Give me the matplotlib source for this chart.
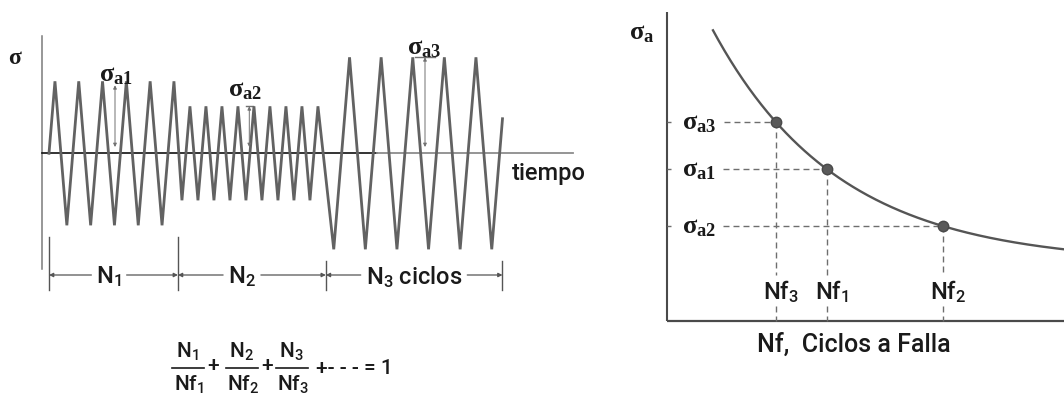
import numpy as np
import matplotlib
matplotlib.use("Agg")
import matplotlib.pyplot as plt

SANS = 'Roboto'
plt.rcParams['font.family'] = [SANS, 'Liberation Sans', 'DejaVu Sans']
plt.rcParams['font.weight'] = 'medium'
plt.rcParams['mathtext.fontset'] = 'custom'
plt.rcParams['mathtext.rm'] = 'Liberation Serif:bold'
plt.rcParams['mathtext.sf'] = SANS + ':medium'
plt.rcParams['mathtext.default'] = 'sf'

# ---- variable-amplitude loading history (left) ----
block_names = ['N$_1$', 'N$_2$', 'N$_3$ ciclos']
block_amplitude = [72, 47, 96]          # sigma_a1, sigma_a2, sigma_a3
block_period = [23.8, 16.0, 31.6]
block_vertices = [11, 18, 11]           # peaks + valleys drawn per block
amp_labels = [r'$\mathrm{\sigma_{a1}}$', r'$\mathrm{\sigma_{a2}}$', r'$\mathrm{\sigma_{a3}}$']
history_start = 49.0
tail_fraction = 0.68

# ---- S-N curve (right) ----
sn_limit = 57.0
sn_scale = 337.0
sn_decay = 126.0
curve_range = (46.3, 397.3)
nf_values = [160.0, 276.6, 109.0]       # Nf1, Nf2, Nf3
nf_labels = ['Nf$_1$', 'Nf$_2$', 'Nf$_3$']
sa_labels = [r'$\mathrm{\sigma_{a1}}$', r'$\mathrm{\sigma_{a2}}$', r'$\mathrm{\sigma_{a3}}$']

W, H = 1064, 402
fig = plt.figure(figsize=(W / 100, H / 100), dpi=100)
fig.patch.set_facecolor('white')

ZL = 154.3       # zero-stress line height from top
axL = fig.add_axes([0, 0, 600 / W, 1])
axL.set_xlim(0, 600)
axL.set_ylim(ZL - H, ZL)
axL.axis('off')

OX, OY = 666.7, 321.7
axR = fig.add_axes([600 / W, 0, (W - 600) / W, 1])
axR.set_xlim(600 - OX, W - OX)
axR.set_ylim(OY - H, OY)
axR.axis('off')

wave_c = '#626262'
ink = '#1a1a1a'
SIG = 19

# build the triangular stress history block by block
t = [history_start]
s = [0.0]
bounds = [history_start]
tc = history_start
sign = 1
for k in range(3):
    A, T, n = block_amplitude[k], block_period[k], block_vertices[k]
    step_in = T / 4 if k == 0 else T / 2
    if k > 0:
        bounds.append(tc + step_in / 2)
    tc += step_in
    for i in range(n):
        if i:
            tc += T / 2
        t.append(tc)
        s.append(sign * A)
        sign = -sign
t_end = tc + tail_fraction * block_period[-1] / 2
s_end = s[-1] + tail_fraction * (sign * block_amplitude[-1] - s[-1])
t.append(t_end)
s.append(s_end)
bounds.append(t_end)

# axes of the history plot
axL.plot([41.7, 41.7], [117.3, -115.7], color='#7a7a7a', lw=1.1, zorder=1)
axL.plot([41.7, 376.7], [0, 0], color='#111111', lw=1.2, zorder=2)
axL.plot([376.7, 573.3], [0, 0], color='#8c8c8c', lw=1.3, zorder=2)
axL.plot(t, s, color=wave_c, lw=2.0, solid_joinstyle='miter', zorder=3)

axL.text(15, ZL - 57, r'$\mathrm{\sigma}$', fontsize=17, color=ink, ha='center', va='center')
axL.text(511.7, ZL - 173.3, 'tiempo', fontsize=17, color=ink, ha='left', va='center')

# amplitude markers
arrow_x = [115.0, 249.3, 425.0]
label_xy = [(99, 79.3), (228, 64.3), (407, 106.3)]
arr_c = '#707070'
for k in range(3):
    A = block_amplitude[k]
    top = A - 4 if k == 0 else A
    axL.annotate('', xy=(arrow_x[k], top), xytext=(arrow_x[k], 6.3),
                 arrowprops=dict(arrowstyle='<|-|>', lw=0.7, color=arr_c,
                                 shrinkA=0, shrinkB=0, mutation_scale=5))
    if k > 0:
        hw = 3.3 if k == 1 else 10
        axL.plot([arrow_x[k] - hw, arrow_x[k] + hw], [A, A], color=arr_c, lw=1.0)
    axL.text(label_xy[k][0], label_xy[k][1], amp_labels[k], fontsize=SIG,
             color=ink, ha='left', va='center')

# block length dimension lines
dim_y = ZL - 276
tick_bottom = ZL - 291
name_x = [109, 242, 414]
name_objs = []
for k in range(3):
    name_objs.append(axL.text(name_x[k], ZL - 276.7, block_names[k], fontsize=17,
                              color=ink, ha='center', va='center'))
for j, b in enumerate(bounds):
    near = [block_amplitude[i] for i in (j - 1, j) if 0 <= i < 3]
    axL.plot([b, b], [-max(near) - 12, tick_bottom], color='#555555', lw=1.0)

fig.canvas.draw()
rend = fig.canvas.get_renderer()
invL = axL.transData.inverted()
for k in range(3):
    bb = name_objs[k].get_window_extent(rend).transformed(invL)
    for x_from, x_to in ((bb.x0 - 5, bounds[k]), (bb.x1 + 5, bounds[k + 1])):
        axL.annotate('', xy=(x_to, dim_y), xytext=(x_from, dim_y),
                     arrowprops=dict(arrowstyle='-|>', lw=0.9, color='#555555',
                                     shrinkA=0, shrinkB=0, mutation_scale=6))

# Miner's rule
frac_x = [187.5, 241.7, 291.7]
bar_y = ZL - 369.3
for k in range(3):
    axL.plot([frac_x[k] - 16, frac_x[k] + 16], [bar_y, bar_y], color=ink, lw=1.2)
    axL.text(frac_x[k], ZL - 352.0, 'N$_%d$' % (k + 1), fontsize=15, color=ink,
             ha='center', va='center')
    axL.text(frac_x[k] + 1, ZL - 385.0, 'Nf$_%d$' % (k + 1), fontsize=15, color=ink,
             ha='center', va='center')
for px in (213.0, 266.7):
    axL.text(px, ZL - 366.0, '+', fontsize=15, color=ink, ha='center', va='center')
axL.text(316, ZL - 368.5, '+- - - = 1', fontsize=15, color=ink, ha='left', va='center')

# ---- S-N diagram ----
ax_c = '#4a4a4a'
axR.plot([0, 0], [308.7, 0], color=ax_c, lw=1.5, solid_capstyle='butt')
axR.plot([0, W - OX], [0, 0], color=ax_c, lw=1.6, solid_capstyle='butt')


def sn_curve(n):
    return sn_limit + sn_scale * np.exp(-np.asarray(n) / sn_decay)


Nc = np.linspace(curve_range[0], curve_range[1], 400)
axR.plot(Nc, sn_curve(Nc), color='#555555', lw=1.7, zorder=3)
sa_vals = sn_curve(nf_values)
axR.plot(nf_values, sa_vals, 'o', ms=7.5, color='#5a5a5a', mec='#4a4a4a', zorder=4)

dash_kw = dict(color='#6e6e6e', lw=1.0, dashes=(4.3, 2.9))
axR.text(-37.5, 288.7, r'$\mathrm{\sigma_{a}}$', fontsize=SIG, color=ink,
         ha='left', va='center')
invR = axR.transData.inverted()
for nf, sa, sl, nl in zip(nf_values, sa_vals, sa_labels, nf_labels):
    ts = axR.text(15.5, sa, sl, fontsize=SIG, color=ink, ha='left', va='center')
    tn = axR.text(nf + 5, 29.7, nl, fontsize=17, color=ink, ha='center', va='center')
    fig.canvas.draw()
    bs = ts.get_window_extent(rend).transformed(invR)
    bn = tn.get_window_extent(rend).transformed(invR)
    axR.plot([0, 4], [sa, sa], **dash_kw)
    axR.plot([bs.x1 + 7, nf], [sa, sa], **dash_kw)
    axR.plot([nf, nf], [sa, bn.y1 + 3], **dash_kw)
    axR.plot([nf, nf], [bn.y0 - 2, 0], **dash_kw)

axR.text(187.3, -23.3, 'Nf,  Ciclos a Falla', fontsize=18, color=ink,
         ha='center', va='center')

fig.savefig('out.png', dpi=100, facecolor='white')
